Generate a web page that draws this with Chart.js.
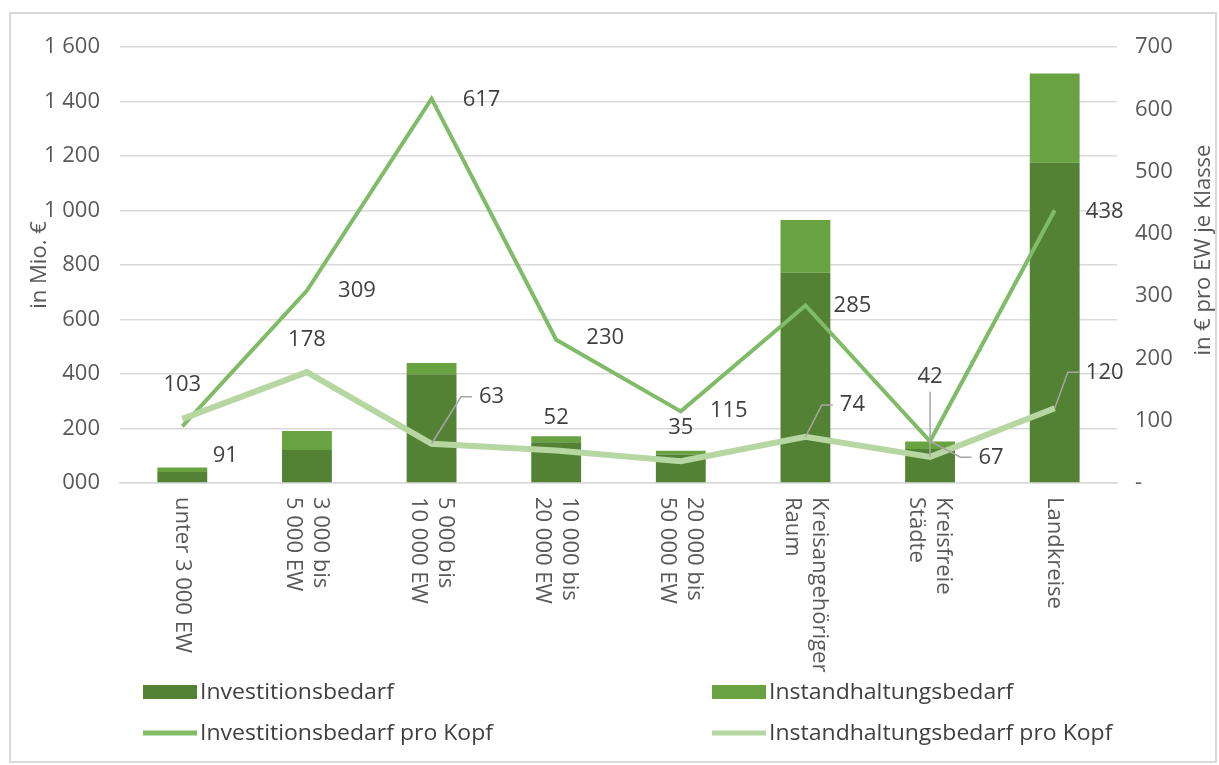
<!DOCTYPE html>
<html>
<head>
<meta charset="utf-8">
<script src="https://cdn.jsdelivr.net/npm/chart.js@4"></script>
<style>
  body { margin: 0; background: #fff; }
  #wrap { width: 1219px; height: 765px; }
</style>
</head>
<body>
<div id="wrap"><canvas id="myChart" width="1219" height="765"></canvas></div>
<script>
// categories (line breaks as in the original axis labels)
const categories = [
  ['unter 3 000 EW'],
  ['3 000 bis', '5 000 EW'],
  ['5 000 bis', '10 000 EW'],
  ['10 000 bis', '20 000 EW'],
  ['20 000 bis', '50 000 EW'],
  ['Kreisangehöriger', 'Raum'],
  ['Kreisfreie', 'Städte'],
  ['Landkreise']
];

// bars, in Mio. € (left axis)
const investitionsbedarf = [40, 121, 399, 150, 105, 772, 125, 1175];
const instandhaltungsbedarf = [17, 70, 41, 22, 13, 193, 27, 328];

// lines, in € pro EW (right axis)
const investProKopf = [91, 309, 617, 230, 115, 285, 67, 438];
const instandProKopf = [103, 178, 63, 52, 35, 74, 42, 120];

const leftTicks = ['000', '200', '400', '600', '800', '1 000', '1 200', '1 400', '1 600'];
const rightTicks = ['-', '100', '200', '300', '400', '500', '600', '700'];

// label placement relative to the point: [dx, dy, leader]
const investLabelPos = [[43, 29], [50, 0], [50, 1], [49, -2], [48, -1], [47, 0], [61, 16, 1], [50, 2]];
const instandLabelPos = [[0, -34], [0, -32], [60, -47, 1], [0, -33], [0, -33], [47, -32, 1], [0, -80, 1], [50, -36, 1]];

const DARK = '#548235';
const LIGHT = '#69a341';
const LINE1 = '#80bb67';
const LINE2 = '#b6d7a2';
const TXT = '#595959';
const FONT = '"Open Sans", sans-serif';

Chart.defaults.font.family = FONT;
Chart.defaults.font.size = 22;
Chart.defaults.color = TXT;

const extras = {
  id: 'extras',
  afterDatasetsDraw(chart) {
    const ctx = chart.ctx;
    ctx.save();
    ctx.font = '22px ' + FONT;
    ctx.fillStyle = '#404040';
    ctx.textAlign = 'center';
    ctx.textBaseline = 'middle';
    const sets = [[2, investProKopf, investLabelPos], [3, instandProKopf, instandLabelPos]];
    sets.forEach(([di, vals, pos]) => {
      const meta = chart.getDatasetMeta(di);
      meta.data.forEach((pt, i) => {
        const [dx, dy, leader] = pos[i];
        const txt = String(vals[i]);
        const lx = pt.x + dx, ly = pt.y + dy;
        if (leader) {
          ctx.strokeStyle = '#a6a6a6';
          ctx.lineWidth = 1.5;
          ctx.beginPath();
          if (dx === 0) {
            ctx.moveTo(pt.x, pt.y);
            ctx.lineTo(pt.x, ly + 15);
          } else {
            const left = lx - ctx.measureText(txt).width / 2;
            ctx.moveTo(pt.x, pt.y);
            ctx.lineTo(left - 18, ly);
            ctx.lineTo(left - 7, ly);
          }
          ctx.stroke();
        }
        ctx.fillText(txt, lx, ly);
      });
    });
    ctx.restore();
  },
  afterDraw(chart) {
    const ctx = chart.ctx;
    const area = chart.chartArea;
    const xs = chart.scales.x;
    ctx.save();

    // frame
    ctx.strokeStyle = '#d9d9d9';
    ctx.lineWidth = 2;
    ctx.strokeRect(10, 13, 1206, 749);

    // axis titles
    ctx.fillStyle = TXT;
    ctx.font = '22px ' + FONT;
    ctx.textAlign = 'center';
    ctx.textBaseline = 'middle';
    ctx.save();
    ctx.translate(40, (area.top + area.bottom) / 2);
    ctx.rotate(-Math.PI / 2);
    ctx.fillText('in Mio. €', 0, 0);
    ctx.restore();
    ctx.save();
    ctx.translate(1204, 250);
    ctx.rotate(-Math.PI / 2);
    ctx.fillText('in € pro EW je Klasse', 0, 0);
    ctx.restore();

    // category labels, turned clockwise
    ctx.textAlign = 'left';
    categories.forEach((lines, i) => {
      const x = xs.getPixelForValue(i);
      ctx.save();
      ctx.translate(x, area.bottom + 14);
      ctx.rotate(Math.PI / 2);
      lines.forEach((t, k) => {
        ctx.fillText(t, 0, (k - (lines.length - 1) / 2) * 27);
      });
      ctx.restore();
    });

    // legend, 2 x 2
    const items = [
      ['Investitionsbedarf', DARK, 'box', 143, 692],
      ['Instandhaltungsbedarf', LIGHT, 'box', 712, 692],
      ['Investitionsbedarf pro Kopf', LINE1, 'line', 143, 733],
      ['Instandhaltungsbedarf pro Kopf', LINE2, 'line', 712, 733]
    ];
    ctx.font = '22px ' + FONT;
    const sx = 293 / ctx.measureText('Investitionsbedarf pro Kopf').width;
    items.forEach(([t, c, kind, x, y]) => {
      if (kind === 'box') {
        ctx.fillStyle = c;
        ctx.fillRect(x, y - 7, 54, 14);
      } else {
        ctx.strokeStyle = c;
        ctx.lineWidth = 5;
        ctx.beginPath();
        ctx.moveTo(x, y);
        ctx.lineTo(x + 54, y);
        ctx.stroke();
      }
      ctx.fillStyle = '#404040';
      ctx.save();
      ctx.translate(x + 57, y);
      ctx.scale(sx, 1);
      ctx.textAlign = 'left';
      ctx.textBaseline = 'middle';
      ctx.fillText(t, 0, 1);
      ctx.restore();
    });

    ctx.restore();
  }
};

const ctx = document.getElementById('myChart');

new Chart(ctx, {
  type: 'bar',
  data: {
    labels: categories.map(c => c.join(' ')),
    datasets: [
      {
        label: 'Investitionsbedarf',
        data: investitionsbedarf,
        backgroundColor: DARK,
        yAxisID: 'y',
        order: 5,
        barPercentage: 0.4,
        categoryPercentage: 1
      },
      {
        label: 'Instandhaltungsbedarf',
        data: instandhaltungsbedarf,
        backgroundColor: LIGHT,
        yAxisID: 'y',
        order: 5,
        barPercentage: 0.4,
        categoryPercentage: 1
      },
      {
        type: 'line',
        label: 'Investitionsbedarf pro Kopf',
        data: investProKopf,
        borderColor: LINE1,
        backgroundColor: LINE1,
        borderWidth: 4,
        pointRadius: 0,
        tension: 0,
        yAxisID: 'y1',
        order: 2
      },
      {
        type: 'line',
        label: 'Instandhaltungsbedarf pro Kopf',
        data: instandProKopf,
        borderColor: LINE2,
        backgroundColor: LINE2,
        borderWidth: 6,
        pointRadius: 0,
        tension: 0,
        yAxisID: 'y1',
        order: 1
      }
    ]
  },
  options: {
    responsive: false,
    animation: false,
    layout: { padding: { top: 47, left: 0, right: 0, bottom: 0 } },
    plugins: {
      legend: { display: false },
      tooltip: { enabled: false }
    },
    scales: {
      x: {
        stacked: true,
        grid: { display: false },
        border: { color: '#d9d9d9', width: 1.5 },
        ticks: { display: false },
        afterFit: s => { s.height = 282; }
      },
      y: {
        stacked: true,
        position: 'left',
        min: 0,
        max: 1600,
        grid: { color: '#d9d9d9', lineWidth: 1.5, drawTicks: false },
        border: { display: false },
        ticks: {
          stepSize: 200,
          padding: 20,
          color: TXT,
          callback: (v, i) => leftTicks[i]
        },
        afterFit: s => { s.width = 120; }
      },
      y1: {
        position: 'right',
        min: 0,
        max: 700,
        grid: { display: false, drawTicks: false },
        border: { display: false },
        ticks: {
          stepSize: 100,
          padding: 18,
          color: TXT,
          callback: (v, i) => rightTicks[i]
        },
        afterFit: s => { s.width = 102; }
      }
    }
  },
  plugins: [extras]
});
</script>
</body>
</html>
